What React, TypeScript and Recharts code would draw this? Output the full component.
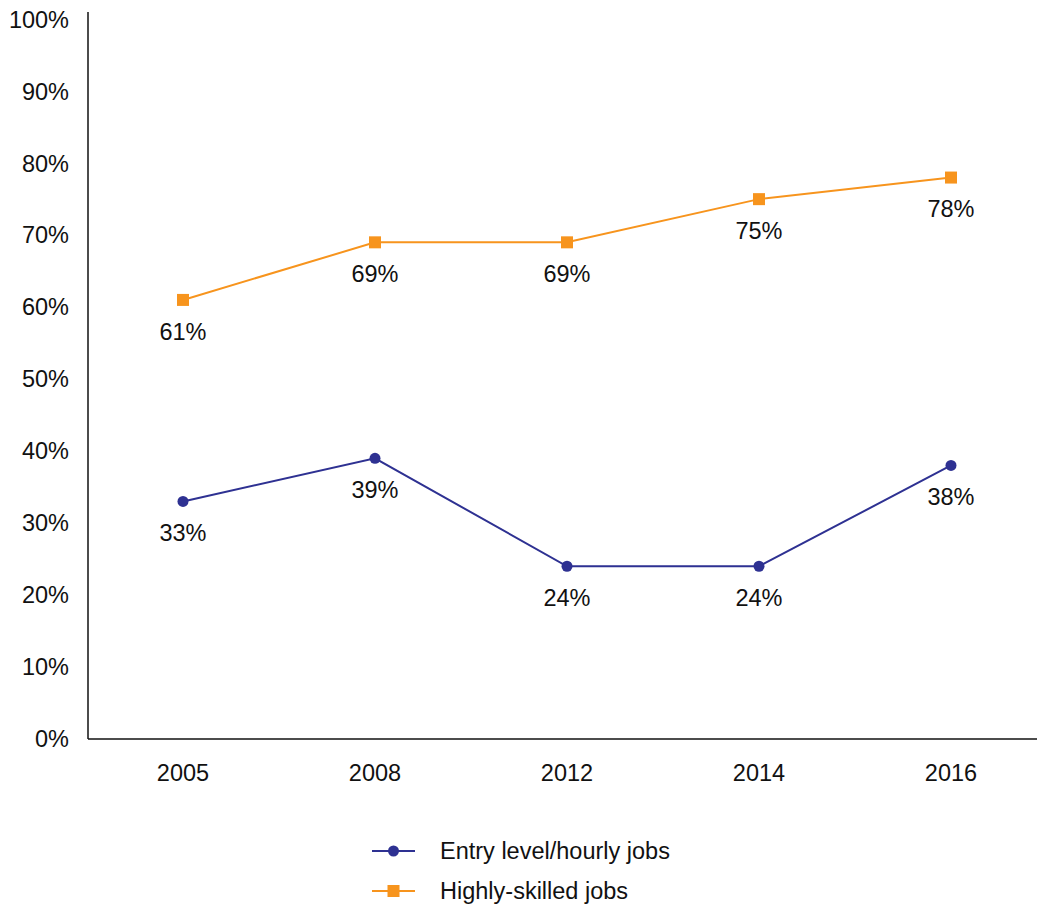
import { LineChart, Line, XAxis, YAxis, Legend, LabelList } from 'recharts'

const years = ['2005', '2008', '2012', '2014', '2016']
const entryLevel = [33, 39, 24, 24, 38]
const highlySkilled = [61, 69, 69, 75, 78]
const yTicks = [0, 10, 20, 30, 40, 50, 60, 70, 80, 90, 100]

const BLUE = '#2e3192'
const ORANGE = '#f7941d'
const FONT = '"Liberation Sans", Arial, Helvetica, sans-serif'
const FS = 23.5

const data = years.map((year, i) => ({
	year,
	entry: entryLevel[i],
	skilled: highlySkilled[i],
}))

const SquareDot = (props: any) => {
	const { cx, cy } = props
	if (cx == null || cy == null) return null
	return <rect x={cx - 6} y={cy - 6} width={12} height={12} fill={ORANGE} />
}

const legendItems = [
	{ label: 'Entry level/hourly jobs', color: BLUE, shape: 'circle' },
	{ label: 'Highly-skilled jobs', color: ORANGE, shape: 'square' },
]

const LegendContent = () => (
	<div style={{ fontFamily: FONT, fontSize: FS, color: '#111' }}>
		{legendItems.map((item) => (
			<div key={item.label} style={{ display: 'flex', alignItems: 'center', height: 40 }}>
				<svg width={68} height={20} style={{ display: 'block' }}>
					<line x1={0} y1={10} x2={43} y2={10} stroke={item.color} strokeWidth={2} />
					{item.shape === 'circle' ? (
						<circle cx={21.5} cy={10} r={5.5} fill={item.color} />
					) : (
						<rect x={15.5} y={4} width={12} height={12} fill={item.color} />
					)}
				</svg>
				<span>{item.label}</span>
			</div>
		))}
	</div>
)

const pct = (v: any) => `${v}%`

export default function App() {
	return (
		<div style={{ position: 'absolute', left: 0, top: 0, background: '#fff' }}>
			<LineChart
				width={1037}
				height={905}
				data={data}
				margin={{ top: 12, right: 0, bottom: 106, left: 0 }}
			>
				<XAxis
					dataKey='year'
					padding={{ left: 95, right: 86 }}
					tickLine={false}
					axisLine={{ stroke: '#111', strokeWidth: 1.5 }}
					tick={{ fill: '#111', fontSize: FS, fontFamily: FONT }}
					tickMargin={19}
					height={60}
				/>
				<YAxis
					domain={[0, 101]}
					ticks={yTicks}
					tickFormatter={pct}
					tickLine={false}
					axisLine={{ stroke: '#111', strokeWidth: 1.5 }}
					tick={{ fill: '#111', fontSize: FS, fontFamily: FONT }}
					tickMargin={13}
					width={88}
					interval={0}
				/>
				<Legend
					layout='vertical'
					align='center'
					verticalAlign='middle'
					content={<LegendContent />}
					wrapperStyle={{ top: 831, left: 372, width: 420 }}
				/>
				<Line
					dataKey='entry'
					name='Entry level/hourly jobs'
					stroke={BLUE}
					strokeWidth={2}
					dot={{ r: 5.5, fill: BLUE, stroke: BLUE, strokeWidth: 0 }}
					isAnimationActive={false}
				>
					<LabelList
						dataKey='entry'
						position='bottom'
						offset={23}
						formatter={pct}
						style={{ fill: '#111', fontSize: FS, fontFamily: FONT }}
					/>
				</Line>
				<Line
					dataKey='skilled'
					name='Highly-skilled jobs'
					stroke={ORANGE}
					strokeWidth={2}
					dot={<SquareDot />}
					isAnimationActive={false}
				>
					<LabelList
						dataKey='skilled'
						position='bottom'
						offset={23}
						formatter={pct}
						style={{ fill: '#111', fontSize: FS, fontFamily: FONT }}
					/>
				</Line>
			</LineChart>
		</div>
	)
}
